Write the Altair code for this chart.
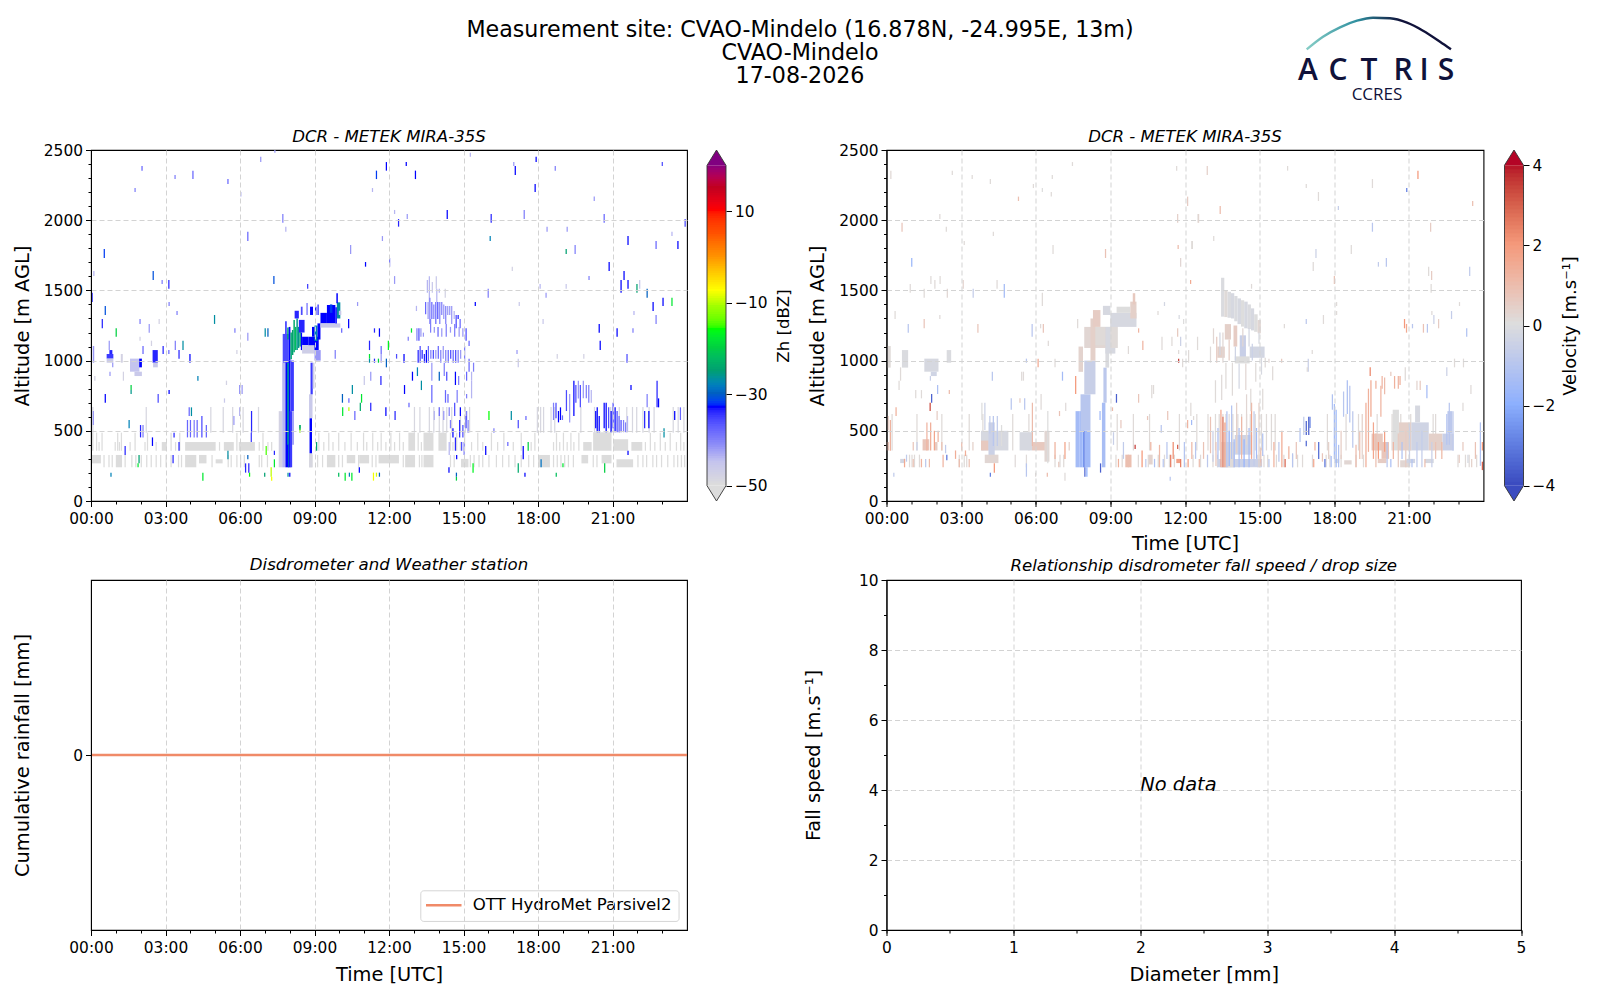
import altair as alt
import pandas as pd

FONT = "DejaVu Sans"
TICK_W = 0.05

# ---------- Zh panel [dBZ] : (hour, low m, high m, dBZ) ----------
zh_sparse = [
 (2.03,2353,2386,-38),(3.36,2293,2322,-40),(4.08,2293,2353,-38),(5.49,2258,2293,-38),(6.81,2414,2452,-42),(7.38,2481,2500,-42),
 (1.75,2201,2229,-40),(6.01,2168,2201,-44),(7.70,1982,2044,-40),(7.82,1918,1954,-44),(6.29,1852,1918,-38),(0.51,1731,1795,-32),
 (0.09,1602,1638,-44),(2.48,1574,1638,-31),(2.84,1546,1574,-40),(3.11,1512,1574,-34),(7.34,1546,1602,-31),(8.70,1512,1546,-35),
 (0.02,1417,1484,-34),(3.12,1389,1417,-40),(0.55,1325,1389,-31),(3.44,1325,1353,-40),(0.43,1230,1296,-34),(1.95,1261,1296,-40),
 (2.32,1199,1261,-42),(2.72,1261,1296,-48),(4.95,1261,1325,-27),(5.77,1199,1230,-40),(0.99,1170,1230,-20),(6.99,1170,1230,-27),
 (7.10,1170,1230,-30),(6.29,1142,1199,-42),(1.95,1142,1170,-48),(0.71,1075,1142,-42),(3.37,1075,1142,-40),(3.68,1075,1142,-27),
 (2.41,1104,1142,-48),(2.07,1047,1104,-38),(2.88,1047,1104,-34),(3.11,1047,1075,-38),(3.52,1014,1075,-34),(3.96,985,1047,-33),
 (5.85,1047,1075,-48),(0.74,890,921,-42),(4.28,857,890,-28),(0.13,857,890,-48),(1.28,857,921,-48),(1.59,790,826,-20),(1.59,762,790,-26),
 (0.55,700,762,-33),(2.68,700,762,-36),(3.12,762,790,-33),(5.96,762,826,-42),(6.06,762,826,-42),(5.43,826,857,-48),(5.35,700,731,-46),
 (10.5,762,826,-27),(10.1,700,762,-30),(10.87,700,762,-18),(10.36,700,731,-38),(10.36,641,667,-10),(11.24,641,700,-34),(10.82,641,700,-24),
 (11.85,605,667,-33),(12.22,577,641,-34),(10.11,605,667,-18),(10.6,577,641,-38),(4.02,605,667,-27),(3.93,605,667,-38),(6.44,487,641,-34),
 (0.07,541,641,-42),(5.73,541,605,-42),(5.96,605,667,-44),(1.51,518,577,-28),(1.97,453,541,-34),(2.07,453,541,-40),
 (3.86,453,577,-38),(3.98,453,577,-38),(4.13,453,577,-40),(4.25,453,577,-38),(4.44,453,605,-36),(4.62,453,541,-38),
 (3.32,453,487,-34),(3.52,358,420,-34),(2.45,392,453,-33),(1.35,328,392,-34),(1.91,268,328,-25),(1.87,240,268,-18),(0.78,173,202,-28),
 (4.48,145,202,-18),(3.28,268,328,-34),(5.49,297,358,-27),(6.29,297,328,-30),(6.2,202,268,-34),(6.33,202,268,-34),(6.36,173,202,-16),
 (7.03,328,392,-15),(7.36,328,358,-34),(7.36,240,297,-18),(6.43,420,487,-35),(6.97,173,202,-25),(7.23,173,240,-10),(7.25,145,173,-8),
 (7.91,173,202,-27),(7.98,173,202,-33),(9.06,358,420,-25),(8.39,518,541,-20),(8.39,487,518,-12),(9.95,173,202,-22),(10.21,145,202,-18),(10.38,173,202,-28),
 (10.48,145,202,-18),(10.78,202,240,-33),(11.35,145,202,-8),(11.47,173,202,-9),(11.59,173,202,-30),(11.19,1075,1142,-34),(11.39,1199,1230,-34),
 (11.59,1170,1230,-33),(11.95,1075,1142,-17),(11.19,1014,1047,-18),(11.19,985,1014,-27),(11.39,985,1014,-34),(11.66,1047,1104,-38),(11.66,985,1047,-42),
 (11.87,952,1014,-30),(12.28,1014,1047,-36),(11.55,985,1014,-20),(10.98,826,890,-46),(11.24,857,921,-42),(11.65,826,890,-34),(10.71,1389,1417,-42),
 (10.35,1230,1296,-33),(10.07,1199,1230,-38),(9.81,1014,1075,-40),(10.43,1759,1823,-42),(11.03,1669,1702,-33),(11.71,1852,1887,-42),(12.0,1669,1731,-40),
 (12.2,2044,2073,-44),(12.36,1954,2008,-34),(12.2,1546,1602,-42),(11.31,2201,2229,-44),(11.47,2293,2353,-32),(11.87,2353,2414,-33),
 (12.67,2386,2414,-33),(13.04,2293,2353,-33),(17.06,2322,2386,-33),(17.0,2386,2414,-42),(17.9,2414,2452,-33),(15.25,2452,2481,-44),(18.67,2353,2386,-40),
 (22.98,2386,2414,-36),(17.86,2201,2258,-33),(20.24,2137,2168,-42),(12.71,2008,2044,-42),(14.32,2008,2073,-33),(16.09,1982,2044,-34),(17.42,2008,2073,-40),
 (20.64,1982,2044,-38),(23.9,1954,2008,-36),(16.05,1852,1887,-28),(18.34,1918,1954,-42),(19.15,1918,1954,-42),(19.11,1759,1795,-25),(19.47,1759,1823,-40),
 (21.6,1823,1887,-33),(22.73,1795,1852,-38),(23.61,1795,1852,-33),(23.37,1887,1918,-44),(20.84,1638,1702,-33),(16.94,1638,1669,-48),(20.03,1574,1602,-40),
 (21.44,1574,1638,-33),(21.32,1484,1574,-33),(21.6,1512,1574,-33),(21.96,1484,1546,-25),(22.07,1512,1574,-46),(22.37,1448,1512,-30),(19.11,1512,1546,-46),
 (18.06,1512,1546,-44),(18.3,1448,1484,-42),(15.97,1448,1512,-40),(15.45,1389,1417,-33),(17.22,1389,1417,-46),(22.61,1353,1417,-33),(23.01,1389,1448,-33),
 (23.37,1389,1448,-18),(21.84,1325,1353,-44),(22.73,1261,1325,-40),(18.18,1261,1296,-46),(20.44,1199,1261,-33),(21.16,1170,1230,-33),(21.8,1199,1230,-40),
 (20.48,1075,1142,-33),(21.56,985,1047,-36),(17.13,1047,1075,-42),(17.18,952,1014,-46),(18.75,1014,1047,-48),(19.82,1014,1047,-48),
 (12.6,762,826,-33),(12.88,1199,1230,-18),(12.78,667,700,-38),(12.58,985,1047,-33),(12.92,857,921,-33),(13.12,890,952,-28),(13.28,790,857,-27),
 (16.0,577,641,-16),(16.9,577,641,-27),(17.49,577,605,-38),(17.18,518,577,-36),(16.2,487,518,-40),(16.76,392,420,-38),(15.87,328,392,-33),
 (17.58,358,420,-20),(17.38,297,392,-33),(15.36,202,268,-17),(14.39,202,240,-33),(14.7,297,328,-33),(14.69,145,173,-20),(14.69,173,202,-30),
 (17.18,202,268,-24),(17.45,173,202,-33),(18.1,240,297,-29),(18.98,240,268,-18),(18.71,173,202,-22),(20.66,202,268,-20),(21.6,328,358,-33),
 (22.77,667,857,-34),(22.83,667,731,-33),(22.37,667,762,-40),(22.27,518,641,-34),(22.44,518,641,-33),(23.48,577,641,-33),(23.71,577,667,-38),
 (23.05,453,518,-27),(21.72,790,826,-33),(8.39,508,541,-25),
]
# stratiform cloud at 13.4-15.5 h and dim echoes below it
zh_storm = [
 (13.52,1484,1574,-44),(13.6,1417,1600,-44),(13.72,1484,1560,-46),(13.88,1512,1600,-46),(13.9,1417,1512,-44),(14.0,1484,1512,-44),(14.24,1448,1512,-48),
 (13.45,1330,1417,-38),(13.55,1296,1417,-42),(13.62,1261,1448,-40),(13.7,1296,1417,-38),(13.78,1296,1400,-40),(13.86,1261,1417,-38),(13.94,1296,1417,-36),
 (14.02,1261,1417,-40),(14.1,1325,1417,-40),(14.18,1296,1400,-42),(14.26,1261,1389,-40),(14.34,1325,1389,-42),(14.42,1325,1389,-42),(14.5,1261,1389,-42),
 (14.6,1296,1353,-44),(14.68,1230,1325,-36),(14.76,1296,1325,-34),(14.84,1230,1296,-38),(13.08,1353,1390,-44),(13.1,1142,1230,-40),(13.18,1142,1230,-36),
 (13.26,1170,1230,-42),(13.36,1170,1199,-42),(12.75,1142,1170,-40),(13.65,1199,1296,-40),(13.8,1199,1240,-42),(13.95,1170,1240,-38),(14.1,1170,1230,-42),
 (14.28,1170,1261,-40),(14.45,1199,1240,-42),(14.62,1170,1261,-40),(14.8,1170,1240,-42),(14.95,1170,1230,-42),(15.08,1142,1230,-36),(15.2,1104,1142,-38),
 (13.15,985,1075,-34),(13.23,985,1104,-36),(13.31,1014,1075,-34),(13.4,985,1047,-34),(13.48,985,1075,-33),(13.56,985,1104,-38),(13.66,1014,1075,-40),
 (13.76,1014,1075,-36),(13.86,1014,1075,-42),(13.96,1014,1104,-38),(14.06,985,1075,-40),(14.16,1014,1104,-42),(14.26,985,1075,-40),(14.36,985,1075,-38),
 (14.46,1014,1075,-36),(14.56,985,1075,-38),(14.66,985,1075,-36),(14.76,985,1075,-40),(14.86,1014,1075,-42),(15.02,985,1104,-40),(15.2,921,1014,-38),(15.38,921,985,-40),
 (13.7,857,985,-42),(14.0,857,921,-30),(14.2,890,985,-40),(14.3,857,921,-36),(14.65,826,921,-33),(14.78,826,890,-40),(15.1,857,921,-38),(15.3,857,921,-44),
 (13.7,700,826,-38),(14.25,700,790,-38),(14.35,700,762,-38),(14.72,700,790,-40),(15.1,731,762,-40),(15.3,731,857,-44),
 (14.0,605,667,-38),(14.4,605,667,-40),(14.62,605,700,-36),(14.85,605,667,-33),(15.1,577,641,-40),(13.8,577,641,-44),(14.18,577,641,-42),
 (14.45,518,577,-40),(14.82,453,577,-34),(14.95,453,541,-36),(15.08,518,605,-36),(15.16,487,577,-40),(14.55,453,518,-33),(14.65,358,453,-34),(14.9,358,420,-36),
 (15.0,328,420,-40),(14.4,328,420,-44),
]
# boundary-layer plumes 18-22.5 h
zh_plumes = [
 (18.6,577,700,-40),(18.7,590,700,-36),(18.8,560,641,-33),(18.88,577,667,-33),(18.96,577,610,-38),(19.12,641,790,-36),(19.25,560,762,-42),(19.42,605,857,-33),
 (19.5,700,826,-36),(19.6,730,857,-42),(19.68,667,826,-36),(19.8,731,857,-42),(19.92,731,826,-40),(20.02,700,826,-40),(20.12,700,790,-44),
 (20.3,518,641,-33),(20.36,490,667,-33),(20.44,490,605,-33),(20.64,518,700,-33),(20.72,490,700,-33),(20.82,518,667,-36),(20.92,490,641,-33),(21.0,518,700,-36),
 (21.08,490,667,-33),(21.16,490,641,-36),(21.24,490,605,-38),(21.32,490,577,-36),(21.42,490,577,-40),(21.5,490,560,-40),(21.58,490,605,-44),
]
# cloud layer at 1000 m and first echoes (start h, end h, low, high, dBZ)
zh_blocks = [
 (0.07,0.13,985,1104,-42),(0.63,0.9,1014,1047,-35),(0.74,0.86,1047,1075,-34),(0.63,0.9,985,1014,-46),(0.85,0.9,952,985,-42),(1.2,1.28,985,1047,-48),
 (1.57,1.95,921,1014,-45),(1.94,2.05,952,1014,-33),(1.75,2.05,890,921,-46),(2.48,2.69,985,1075,-34),(2.5,2.69,952,985,-46),
 # halo and main fall streak
 (7.56,7.7,240,640,-48),(7.7,7.83,240,985,-44),(7.83,8.03,240,1000,-33),(7.9,7.97,400,985,-27),(7.93,7.97,240,400,-30),(8.03,8.17,640,1000,-35),(8.0,8.1,240,640,-35),(8.1,8.17,400,640,-42),
 (8.78,8.92,240,340,-49),(8.8,8.9,340,590,-33),(8.78,8.92,590,760,-46),(8.84,8.93,760,985,-35),(8.93,9.0,800,985,-47),
 # rising tongue, mottled
 (7.72,7.96,985,1190,-36),(7.82,7.88,1190,1280,-34),(7.9,7.96,1150,1235,-24),
 (7.96,8.03,1000,1240,-33),(8.03,8.09,1010,1200,-24),(8.09,8.15,1040,1218,-25),(8.15,8.21,1060,1290,-24),(8.21,8.27,1075,1240,-22),(8.27,8.33,1075,1300,-26),(8.33,8.39,1090,1240,-26),(8.39,8.45,1100,1215,-24),(8.45,8.5,1075,1200,-33),
 (8.5,8.75,1110,1170,-33),(8.75,9.17,1075,1170,-33),(8.5,9.0,1050,1110,-47),(9.0,9.25,1000,1075,-42),
 (8.9,9.0,1170,1240,-33),(9.0,9.12,1140,1250,-28),(9.12,9.24,1150,1265,-33),(8.68,8.72,1325,1410,-36),(8.82,8.94,1325,1384,-33),(9.02,9.08,1325,1384,-34),(9.12,9.17,1325,1400,-34),(8.45,8.52,1325,1384,-36),
 (8.2,8.37,1300,1355,-34),(8.37,8.6,1200,1290,-34),
 (9.24,9.5,1265,1340,-33),(9.5,9.84,1265,1396,-33),(9.24,10.04,1235,1265,-46),(9.62,9.72,1340,1400,-32),(9.84,9.9,1265,1380,-33),(9.9,10.04,1300,1415,-27),(9.88,9.94,1408,1480,-33),(9.98,10.08,1325,1355,-46),
]
# weak low-level echoes (all near -50 dBZ)
zh_grey_blocks = [
 (0.0,0.1,358,487),(2.85,3.05,358,420),(3.79,5.02,358,420),(5.35,5.75,358,420),(5.95,6.6,358,420),(3.79,4.24,240,328),(4.35,4.65,268,328),
 (0.0,0.4,268,328),(1.0,1.25,240,328),(5.02,5.3,268,297),(8.78,8.92,240,328),(9.5,9.84,240,328),(10.3,10.64,268,328),(10.8,11.2,268,328),
 (11.58,12.4,268,328),(12.78,13.05,358,487),(13.39,13.79,358,487),(13.99,14.32,358,487),(19.82,20.16,358,420),(20.22,20.96,358,490),
 (21.03,21.63,358,440),(21.76,22.2,358,420),(12.65,13.05,240,328),(13.39,13.79,240,328),(14.9,15.2,240,300),(18.0,18.48,240,328),(19.75,20.02,268,328),
 (20.56,20.96,268,328),(21.16,21.83,240,297),
]
zh_grey_upper_t = [0.2,0.42,1.05,1.2,1.75,2.25,3.2,3.55,5.85,6.9,9.15,9.55,9.95,10.45,10.95,11.32,11.66,12.05,12.4,13.15,14.45,14.7,15.02,15.55,16.1,16.6,17.3,17.85,18.72,19.0,19.3,19.62,22.5,22.9,23.3,23.72]
zh_grey_short_t = [0.3,0.95,1.12,1.55,2.15,2.6,3.0,3.38,5.15,6.75,7.1,7.25,9.35,9.72,10.2,10.7,11.08,11.52,11.85,12.2,12.55,13.28,14.55,14.85,15.3,15.75,16.35,16.98,17.7,18.6,18.85,19.15,19.42,22.3,22.68,23.1,23.55,23.85]
zh_grey_lower_t = [0.5,0.7,0.83,1.35,1.62,1.78,2.0,2.22,2.4,2.6,2.78,3.0,3.2,3.5,3.62,4.85,5.5,5.62,5.85,6.0,6.15,6.75,6.85,7.08,9.1,9.3,9.95,10.1,10.75,11.3,11.45,12.55,13.2,13.3,14.45,14.6,15.25,15.4,15.6,15.75,16.0,16.3,16.55,16.8,17.05,17.3,17.6,17.8,18.6,18.75,18.9,19.05,19.2,19.4,20.2,20.35,22.0,22.2,22.35,22.6,22.75,22.95,23.2,23.45,23.6,23.75,23.88]
zh_grey_tall_t = [0.05,2.2,4.8,5.3,5.68,6.1,6.72,13.0,13.22,13.6,13.78,14.0,14.15,14.3,14.5,14.85,15.05,15.22,17.95,18.08,18.2,18.5,18.65,19.7,20.25,20.9,21.0,21.25,21.55,21.78,21.95,22.2,22.45,22.65,23.42,23.62,23.85]

# ---------- Velocity panel [m/s] : (hour, low m, high m, velocity) ----------
v_sparse = [
 (0.15,2293,2353,0.15),(2.62,2322,2353,0.1),(3.42,2293,2322,0.1),(4.15,2258,2293,0.1),(7.45,2386,2414,0.1),(5.88,2229,2258,0.1),(6.24,2201,2229,0),(6.64,2293,2322,0.1),
 (6.6,2168,2201,0.1),(5.28,2137,2168,0.9),(11.64,2353,2386,0.1),(12.08,2101,2168,0.5),(0.6,1918,1982,0.7),(2.12,2008,2044,0.1),(2.38,1918,1954,0.1),(4.27,1887,1918,0.1),
 (11.68,1982,2044,0.4),(12.52,1982,2044,0.5),(3.1,1823,1852,0.1),(6.67,1759,1823,0.1),(8.78,1731,1795,0.8),(11.7,1795,1823,1),(12.27,1795,1852,0.1),(0.99,1669,1731,-1.7),
 (11.8,1669,1731,0.2),(1.76,1546,1602,0.1),(1.92,1512,1574,0.1),(2.13,1546,1602,0.1),(0.93,1484,1546,0.1),(1.49,1448,1512,0.1),(2.42,1448,1512,0.2),(3.06,1512,1574,0.3),
 (3.46,1448,1512,-0.7),(4.42,1512,1574,0.1),(4.71,1448,1546,-1.5),(6.24,1389,1484,0.1),(12.2,1546,1574,1.5),(0.32,1296,1353,0.1),(2.12,1296,1325,0.1),(1.49,1230,1296,0.7),
 (0.85,1199,1261,-1),(3.65,1199,1261,0.7),(5.83,1170,1261,-1),(6.28,1199,1261,0.7),(6.17,1230,1261,0.1),(6.48,1104,1142,0.1),(7.66,1230,1296,0.1),(11.15,1389,1417,-0.3),
 (10.89,1325,1353,0.1),(11.74,1296,1325,-0.2),(11.92,1261,1296,0),(11.68,1170,1230,0.6),(10.11,1199,1230,1.2),(10.28,1075,1142,1.2),(9.7,1047,1104,0.1),(11.05,1075,1170,0.1),
 (11.45,1104,1170,0.1),(11.8,1104,1170,-0.5),(12.48,1075,1170,0.1),(11.72,1047,1075,0.1),(11.72,985,1014,3.5),(12.12,985,1075,0.1),(11.88,952,1014,0.1),(5.6,985,1014,-1),
 (6.07,952,1014,1.5),(6.75,952,1014,0.1),(0.54,857,952,0.1),(0.48,790,857,0.1),(4.23,857,921,-1),(5.41,857,921,0.1),(5.48,857,921,0.1),(7.05,857,921,-1.5),(7.58,762,890,2),
 (1.74,857,890,-0.6),(2.03,762,826,-1.3),(2.5,762,790,1),(1.38,731,790,0.1),(1.15,731,790,0.1),(1.79,700,762,-3.6),(1.73,641,700,3.3),(2.01,577,641,0.5),(0.36,605,667,1.3),
 (0.04,506,605,0.6),(0.13,358,577,1.3),(3.81,577,700,0),(3.93,506,700,-0.5),(4.13,480,605,-0.8),(4.27,392,605,-1),(4.43,392,605,-0.8),(4.6,392,541,0),(4.99,650,731,-1),
 (5.34,700,731,0.5),(5.53,650,731,-1),(5.84,392,700,1),(6.19,650,762,0.1),(6.93,605,641,0.8),(7.18,641,700,0.1),(6.46,268,641,0),(8.56,577,641,-1.6),(9.22,700,762,-3.6),
 (9.06,641,667,1),(10.11,700,762,0.7),(10.64,731,826,0.1),(10.71,762,826,0.1),(9.4,518,577,0.6),(10.47,577,605,0.7),(11.28,577,641,0.7),(11.02,487,541,-1),(12.21,605,700,0.1),
 (12.08,518,577,1.2),(12.24,541,577,-1.5),(12.32,577,605,0.1),(4.15,173,202,-3),(4.31,202,268,2),(5.6,173,268,-1),(5.97,173,202,0.1),(6.44,173,202,1),(7.15,145,202,0.1),
 (7.95,173,240,-3.5),(8.03,173,240,-2),(8.58,202,268,-3.6),(0.27,173,202,-0.8),(11.38,145,173,-1),
 (12.87,2322,2386,0.4),(16.1,2353,2386,0.1),(16.85,2229,2258,0.1),(17.34,2137,2201,0.1),(18.14,2073,2101,-0.7),(19.51,2229,2293,0.1),(21.34,2293,2353,2),(20.89,2201,2229,-3),
 (23.54,2101,2137,0.9),(13.39,2044,2101,1),(12.5,1982,2044,0.1),(13.13,1852,1887,0.1),(12.25,1795,1852,0.1),(19.51,1918,1982,-1),(21.85,1918,1982,0.5),(18.66,1759,1823,0.1),
 (17.24,1731,1795,-0.5),(17.13,1638,1702,0.1),(19.75,1669,1702,-0.8),(20.07,1669,1731,-1),(21.77,1602,1669,0.1),(21.89,1574,1638,0.5),(23.42,1602,1669,-0.8),(17.98,1546,1602,0.8),
 (21.87,1484,1546,0.1),(14.65,1512,1546,0.1),(17.54,1261,1325,0.1),(16.85,1261,1296,-0.9),(15.97,1230,1261,0.1),(18.07,1389,1417,0.1),(18.07,1325,1353,0.1),(23.01,1389,1417,0.1),
 (22.69,1296,1353,-0.7),(21.9,1325,1353,0.1),(21.98,1261,1325,-0.5),(22.17,1230,1296,0.5),(20.8,1230,1296,2),(20.88,1199,1261,1.5),(21.12,1230,1261,-1),(21.56,1199,1261,0.8),
 (21.72,1199,1261,-1),(23.3,1170,1230,-1.2),(17.09,1047,1075,0.1),(16.93,921,1014,-0.6),(16.89,921,952,0.1),(15.86,985,1014,0.6),(19.42,890,952,2.3),(22.81,952,1014,0.1),
 (23.17,952,1014,0.1),(22.5,890,952,-0.5),(20.83,857,952,0.1),(20.62,826,890,1.3),(21.7,731,826,-1.5),(21.43,790,857,0.6),(21.3,790,857,0.3),(23.47,762,826,0.1),(23.15,641,700,0.1),
 (20.25,890,921,0.6),(20.4,800,890,1.3),(20.55,800,890,1.2),(19.65,800,857,1.3),(19.9,800,890,1.2),(20.0,760,880,1),
]
# sparse columns below the 14 h cloud
v_storm = [
 (13.0,985,1100,0.1),(13.12,1120,1230,0.2),(13.25,985,1170,0.5),(13.38,1040,1200,-0.3),(13.5,985,1200,0.2),(13.62,800,985,0.1),(13.75,1000,1150,0.5),(13.88,750,985,0.1),
 (14.0,1000,1100,-0.4),(14.15,800,980,-0.3),(14.3,1100,1230,0.2),(14.42,790,980,0.2),(14.55,1100,1230,-0.3),(14.68,1000,1120,-0.5),(14.82,850,985,0.1),(14.95,1120,1200,-0.2),
 (15.05,900,1040,-0.2),(15.2,950,1020,0.1),(15.35,985,1014,0.2),(15.5,860,960,0.1),(13.2,700,860,0.1),(13.45,720,900,0.1),(14.62,640,800,0.1),(15.1,650,800,0.1),
]
# velocity texture in the low layer : (hour, low, high, velocity)
v_low = [
 (13.0,340,600,0.8),(13.1,280,500,-0.6),(13.22,250,420,0.7),(13.3,300,520,-1.3),(13.42,240,650,1.6),(13.5,240,600,2.5),(13.58,240,560,1.8),(13.66,240,640,-1.2),(13.75,250,500,-1.8),
 (13.85,300,680,-1.1),(13.95,240,440,-1.6),(14.05,340,700,0.4),(14.15,240,520,-1.3),(14.25,300,600,1.1),(14.35,240,440,-1.8),(14.45,400,760,0.2),(14.55,240,520,-1.4),(14.65,300,700,1.6),
 (14.75,250,640,-0.8),(14.85,300,520,-1.5),(14.95,240,700,0.4),(15.02,250,380,1),(15.1,320,480,-1.2),(15.35,240,300,-1),(15.55,240,420,1.3),(15.75,280,420,-0.9),(15.87,240,500,1.5),
 (16.0,240,300,2.8),(16.15,300,390,1.3),(16.3,240,340,-1),(16.45,300,420,0.7),(16.6,420,520,-1.2),(16.75,470,600,-0.8),(16.85,390,430,-3.4),(16.85,470,570,-3.6),(16.95,470,600,-3.6),(17.0,520,600,-3),
 (17.15,240,300,1.6),(17.35,300,420,-3.4),(17.5,280,340,0.7),(17.6,240,300,-3.2),(17.2,360,420,1.2),(17.75,300,420,0.4),(17.85,240,320,-1.4),(17.9,650,760,-1.2),(17.98,300,690,-1.5),
 (18.05,240,650,-1.7),(18.15,240,400,-1.2),(18.25,300,500,0.5),(18.35,600,780,-1),(18.5,620,860,-1.3),(18.6,560,820,-1),(18.72,380,640,-0.9),(18.85,240,400,1),(19.0,300,500,0.9),
 (19.1,300,620,0.4),(19.25,240,700,1.4),(19.35,350,800,1.3),(19.45,600,860,1.5),(19.55,300,560,1.6),(19.65,240,480,0.9),(19.75,300,420,2),(19.85,600,820,1.2),(20.0,350,500,1.8),(20.1,240,420,-1),
 (20.25,240,300,-1.3),(20.35,300,420,1.2),(20.55,240,480,0.6),(20.7,300,420,-1.2),(20.85,240,500,0.5),(21.0,250,550,-0.6),(21.1,240,300,-1.1),(21.3,240,420,-0.8),(21.5,240,500,-0.7),(21.62,240,300,0.9),
 (21.9,240,420,-0.6),(22.05,300,420,0.8),(22.3,300,420,1.1),(22.5,400,620,-1.1),(22.6,400,700,-1),(22.75,358,640,-0.8),(23.0,270,330,0.5),(23.15,358,420,0.6),(23.35,270,330,-0.2),
 (23.5,240,300,0.4),(23.65,300,420,0.8),(23.85,250,560,-1.2),(23.93,220,280,3),(23.93,360,420,2),
 (3.0,360,420,1),(3.15,320,360,1.4),(3.3,240,300,0.9),(2.9,240,300,1),(3.45,360,420,0.4),(0.7,240,300,1.5),(1.05,240,300,0.8),(1.38,240,300,1.2),(1.55,240,300,-0.9),(1.7,240,300,1),(2.25,240,330,1.2),(2.4,290,330,-3.2),(2.75,300,360,1.4),
 (1.6,360,560,1.2),(1.75,360,560,1.4),(1.9,360,500,1.6),(2.05,420,500,1.2),(2.2,360,420,0.9),(2.35,340,400,-0.8),(1.05,360,420,0.7),(1.2,360,420,-0.6),(0.78,280,330,-0.8),
 (6.75,300,420,1.3),(6.9,240,280,0.6),(7.15,300,420,1.7),(7.32,360,420,0.4),(9.1,400,490,-0.6),(9.3,240,300,1.3),(9.5,300,420,-0.8),(9.97,370,400,3.5),(10.25,240,360,2),(10.4,240,300,-0.8),(10.6,360,420,1.2),(10.75,240,300,-1.2),
 (10.95,240,400,1.1),(11.1,240,300,-1),(11.25,300,420,-1),(11.4,240,330,2.5),(11.5,300,420,2.2),(11.68,370,400,3),(11.8,240,300,2.5),(11.95,240,420,-1.1),(12.1,240,300,1.8),(12.25,300,420,1.1),(12.4,300,420,-1),(12.55,240,300,1),(12.72,300,420,0.8),(12.88,240,330,-0.9),
]
# (start h, end h, low, high, velocity)
v_blocks = [
 (0.04,0.17,950,1104,0.1),(0.62,0.87,950,1075,-0.1),(1.52,2.09,921,1014,-0.2),(1.78,2.02,890,921,-0.4),(2.42,2.6,985,1075,-0.1),
 (7.6,7.75,240,640,-1.5),(7.75,7.88,240,640,-1.6),(7.88,7.95,240,650,-2),(7.92,7.97,240,500,-3.1),(7.97,8.2,240,500,-1.6),(7.8,8.2,500,760,-1.0),(7.95,8.4,760,1000,-0.6),(7.72,7.9,920,1100,0.3),
 (8.66,8.8,240,700,-1.4),(8.72,8.85,700,950,-0.9),(8.8,8.95,950,1100,-0.1),
 (7.95,9.2,1090,1240,0.2),(8.2,8.4,1000,1300,0.4),(8.4,8.8,1110,1240,0.1),(8.8,9.2,1050,1240,-0.2),(8.3,8.6,1240,1360,0.5),(8.7,9.0,1325,1390,-0.2),(9.0,9.3,1090,1300,0.1),
 (9.0,10.05,1240,1340,-0.2),(9.25,9.8,1340,1384,0),(9.8,10.05,1300,1420,0.4),(9.9,10.0,1400,1480,0.6),
 (3.8,4.9,360,500,-0.2),(3.8,4.1,360,430,0.6),(4.1,4.35,300,560,-0.5),(3.95,4.5,270,330,0.2),(5.35,5.85,360,490,-0.2),(5.85,6.5,360,420,0.6),(6.35,6.55,280,500,0.2),
 (1.45,1.72,360,440,0.7),(0,0.1,360,420,0.7),(0.55,0.75,270,300,-0.3),(1.95,2.05,360,420,0.5),
 (9.6,9.85,240,330,0.9),(10.55,10.7,260,330,0.3),(11.65,11.8,270,300,1.8),
 (13.45,13.58,1313,1590,-0.1),(13.58,13.71,1310,1503,0.1),(13.71,13.85,1305,1490,-0.1),(13.85,13.98,1300,1480,-0.2),(13.98,14.11,1280,1460,-0.1),(14.11,14.25,1260,1443,-0.2),
 (14.25,14.38,1242,1430,0),(14.38,14.52,1230,1420,-0.2),(14.52,14.65,1225,1400,-0.1),(14.65,14.78,1215,1372,-0.2),(14.78,14.92,1205,1330,0),(14.92,15.05,1194,1289,0.2),
 (13.6,13.85,1150,1260,0.4),(13.95,14.1,1100,1250,0.5),(14.2,14.45,1000,1180,-0.6),(14.6,15.2,1020,1100,-0.3),(13.3,13.6,1020,1100,0.4),(14.0,14.6,980,1030,0),
 (13.3,15.1,240,300,-0.5),(13.6,13.95,300,420,-0.3),(14.0,14.7,330,470,-0.4),(13.45,14.0,240,420,0.1),
 (18.4,18.7,260,290,0.2),(19.5,19.95,360,480,0.6),(19.9,20.2,300,420,0.7),(20.35,20.6,360,650,0),(20.6,21.1,360,560,0.4),(20.65,21.05,240,290,0.2),(21.1,21.8,360,560,-0.4),
 (21.25,21.45,560,680,-0.2),(21.8,22.35,360,480,0.4),(22.35,22.8,360,480,-0.6),(22.55,22.75,480,640,-0.9),(18.0,18.2,270,300,-0.3),(19.75,20.1,270,300,0.5),(20.9,21.25,270,300,-0.4),(21.65,22.0,270,300,-0.2),
]
v_grey_t = [0.9,1.0,1.1,1.3,2.9,3.1,3.2,5.15,5.6,6.75,6.95,7.1,9.2,9.45,9.7,10.1,10.5,10.9,11.15,11.35,11.55,12.3,12.6,13.1,13.28,14.9,15.15,15.3,15.65,15.95,16.3,16.5,16.7,17.1,17.65,17.8,18.25,18.85,19.15,22.95,23.25,23.4,23.7]
v_grey_mid_t = [0.2,1.2,2.2,3.3,3.85,5.05,5.7,9.25,9.9,10.55,11.75,12.45,12.9,13.2,13.35,13.5,13.62,13.75,13.9,14.1,14.25,14.45,14.6,14.8,15.05,15.25,15.45,15.6,17.7,18.45,18.95,19.7,20.3,20.65,21.05,21.95,22.05]

# ---------- colours ----------
zh_domain = [-50,-45,-41,-37,-33,-30,-25,-20,-16,-11,-7.5,-3,0,5,10,15,20]
zh_range = ["#dcdcdc","#c4c4ee","#8a8af8","#5a5aff","#0000ff","#0060c0","#00a070","#00d040","#00ff00","#a0ff00","#ffff00","#ffc000","#ff9000","#ff5000","#ff0000","#c00020","#800080"]
v_domain = [-4,-2,0,2,4]
v_range = ["#3b4cc0","#8db0fe","#dddddd","#f4987a","#b40426"]
hydro_colour = "#f08a68"
zh_bar_steps = [v/2 for v in range(-100, 40)]
v_bar_steps = [v/10 for v in range(-40, 40)]

# ---------- text ----------
title_lines = ["Measurement site: CVAO-Mindelo (16.878N, -24.995E, 13m)", "CVAO-Mindelo", "17-08-2026"]
title_y = [17, 40, 62.5]
title_x = [801, 801, 801]
logo_letters = ["A", "C", "T", "R", "I", "S"]
logo_letter_x = [1309, 1339, 1370, 1404, 1425, 1447]
logo_arc_x = [1307.7,1324,1341,1358,1374,1391,1408,1424,1441,1452]
logo_arc_y = [36.3,23.7,14.3,7.7,4.7,5.3,9.7,17.7,28.7,36.3]
mast_x = [1424, 1424]
mast_y = [0, 43]
major_hours = [0,3,6,9,12,15,18,21]
minor_hours = list(range(0,24))
alt_major = [0,500,1000,1500,2000,2500]
alt_minor = list(range(0,2501,100))

legend_label = ["OTT HydroMet Parsivel2"]
legend_box_t = [13.28, 23.68]
legend_box_v = [-0.776, -0.951]
legend_line_t = [13.49, 14.92]
legend_line_v = [-0.859, -0.859]
legend_text_t = [15.37]

PAGE_L = 92
HEAD_W, HEAD_H = 1470, 111.5

LABEL = 15.4
TITLE = 19.4
SUB = 16.6
GRID = "#d3d3d3"

def major_axis(values, orient, title=None, expr=None, extent=None, xpad=10):
    kw = dict(values=values, orient=orient, grid=False, tickSize=5.5, tickColor="black", format="d", labelFlush=False, labelOverlap=False,
              labelFontSize=LABEL, labelFont=FONT, labelColor="black", titleFont=FONT, titleFontSize=TITLE, titleFontWeight="normal", titleColor="black",
              domainColor="black", labelPadding=5 if orient == "bottom" else 3, zindex=2)
    kw["title"] = title if title is not None else ""
    if expr:
        kw["labelExpr"] = expr
    if extent:
        kw.update(minExtent=extent, maxExtent=extent, titlePadding=6)
    if orient == "bottom":
        kw["titlePadding"] = xpad
    return alt.Axis(**kw)

def minor_axis(values, orient, extent=None):
    kw = dict(values=values, orient=orient, grid=False, labels=False, tickSize=3, tickColor="black", domain=False, title="")
    if extent:
        kw.update(minExtent=extent, maxExtent=extent)
    return alt.Axis(**kw)

def grid_axis(values, orient, extent=None):
    kw = dict(values=values, orient=orient, grid=True, gridColor=GRID, gridDash=[5,3], gridWidth=1, labels=False, ticks=False, domain=False, title="", zindex=1)
    if extent:
        kw.update(minExtent=extent, maxExtent=extent)
    return alt.Axis(**kw)

TIME_EXPR = "(datum.value<10?'0':'')+datum.value+':00'"

def guides(xscale, yscale, xmaj, xmin, xgrid, xtitle, ymaj, ymin, ygrid, ytitle, xexpr=None, yext=53, xpad=10):
    g = alt.Chart(pd.DataFrame({"x": xmaj[:1], "y": ymaj[:1]}))
    a = g.mark_point(opacity=0).encode(
        x=alt.X("x:Q", scale=xscale, axis=major_axis(xmaj, "bottom", xtitle, xexpr, xpad=xpad)),
        y=alt.Y("y:Q", scale=yscale, axis=major_axis(ymaj, "left", ytitle, None, yext)))
    b = g.mark_point(opacity=0).encode(
        x=alt.X("x:Q", scale=xscale, axis=minor_axis(xmin, "bottom")),
        y=alt.Y("y:Q", scale=yscale, axis=minor_axis(ymin, "left", yext)))
    c = g.mark_point(opacity=0).encode(
        x=alt.X("x:Q", scale=xscale, axis=grid_axis(xgrid, "bottom")),
        y=alt.Y("y:Q", scale=yscale, axis=grid_axis(ygrid, "left", yext)))
    return [a, b, c]

def panel_title(text, offset):
    return alt.TitleParams(text, fontSize=SUB, fontStyle="italic", font=FONT, fontWeight="normal", offset=offset)

TX = alt.Scale(domain=[0,24], nice=False, zero=False)
TY = alt.Scale(domain=[0,2500], nice=False, zero=False)
hour_grid = major_hours[1:]
alt_grid = alt_major[1:-1]

def frame(df, color_scale, w, h, title, xtitle):
    rect = alt.Chart(df).mark_rect(strokeWidth=0).encode(
        x=alt.X("t:Q", scale=TX, axis=None), x2="t2:Q",
        y=alt.Y("lo:Q", scale=TY, axis=None), y2="hi:Q",
        color=alt.Color("val:Q", scale=color_scale, legend=None))
    layers = [rect] + guides(TX, TY, major_hours, minor_hours, hour_grid, xtitle, alt_major, alt_minor, alt_grid, "Altitude [m AGL]", TIME_EXPR, xpad=8)
    return alt.layer(*layers).resolve_axis(x="independent", y="independent").properties(
        width=w, height=h, title=panel_title(title, -2.5))

def cell_table(rows, blocks, lists):
    recs = [(t, t+TICK_W, lo, hi, v) for t, lo, hi, v in rows]
    recs += [(a, b, lo, hi, v) for a, b, lo, hi, v in blocks]
    for times, lo, hi, v in lists:
        recs += [(t, t+TICK_W, lo, hi, v) for t in times]
    return pd.DataFrame(recs, columns=["t","t2","lo","hi","val"])

zh_df = cell_table(
    [],
    [(a,b,lo,hi,-50) for a,b,lo,hi in zh_grey_blocks],
    [(zh_grey_upper_t,358,487,-50),(zh_grey_short_t,358,420,-50),(zh_grey_lower_t,240,328,-50),(zh_grey_tall_t,487,670,-49)])
zh_df = pd.concat([zh_df, cell_table(zh_sparse+zh_storm+zh_plumes, zh_blocks, [])], ignore_index=True)

v_df = cell_table([], [], [(v_grey_t,240,330,0.1),(v_grey_mid_t,360,620,0.1)])
v_df = pd.concat([v_df, cell_table([], v_blocks, []), cell_table(v_low+v_sparse+v_storm, [], [])], ignore_index=True)

def colourbar(steps, step, domain, rng, lo, hi, tip_lo, tip_hi, ticks, title, title_size, title_pad, h=351):
    scale = alt.Scale(domain=[tip_lo, tip_hi], nice=False, zero=False)
    xs = alt.Scale(domain=[0,1], nice=False)
    cs = alt.Scale(domain=domain, range=rng)
    df = pd.DataFrame({"v": steps})
    df["v2"] = (df["v"] + step*1.4).clip(upper=hi)
    df["a"] = 0
    df["b"] = 1
    grad = alt.Chart(df).mark_rect(strokeWidth=0).encode(
        x=alt.X("a:Q", scale=xs, axis=None), x2="b:Q",
        y=alt.Y("v:Q", scale=scale, axis=None), y2="v2:Q",
        color=alt.Color("v:Q", scale=cs, legend=None))
    top = pd.DataFrame({"x":[0,0.5,1], "y":[hi,tip_hi,hi], "y2":[hi,hi,hi]})
    bot = pd.DataFrame({"x":[0,0.5,1], "y":[lo,tip_lo,lo], "y2":[lo,lo,lo]})
    t1 = alt.Chart(top).mark_area(color=rng[-1]).encode(x=alt.X("x:Q", scale=xs, axis=None), y=alt.Y("y:Q", scale=scale, axis=None), y2="y2:Q")
    t2 = alt.Chart(bot).mark_area(color=rng[0]).encode(x=alt.X("x:Q", scale=xs, axis=None), y=alt.Y("y:Q", scale=scale, axis=None), y2="y2:Q")
    outline = pd.DataFrame({"x":[0,0,0.5,1,1,0.5,0], "y":[lo,hi,tip_hi,hi,lo,tip_lo,lo], "o":list(range(7))})
    o = alt.Chart(outline).mark_line(color="#333333", strokeWidth=0.9).encode(
        x=alt.X("x:Q", scale=xs, axis=None),
        y=alt.Y("y:Q", scale=scale, axis=alt.Axis(values=ticks, orient="right", grid=False, tickSize=5.5, tickColor="black", labelFontSize=LABEL, labelFont=FONT,
                labelColor="black", title=title, titleFont=FONT, titleFontSize=title_size, titleFontWeight="normal", titleColor="black", domain=False, labelPadding=3, titlePadding=title_pad,
                titleAngle=270, titleBaseline="top", labelFlush=False, labelOverlap=False, labelExpr="replace(format(datum.value,'d'),'-','\u2212')")),
        order="o:Q")
    return alt.layer(t1, t2, grad, o).resolve_axis(y="independent").properties(width=19, height=h, view=alt.ViewBackground(stroke="transparent"))

# -- panels --
tl = frame(zh_df, alt.Scale(domain=zh_domain, range=zh_range), 596, 351, "DCR - METEK MIRA-35S", None)
tr = frame(v_df, alt.Scale(domain=v_domain, range=v_range), 597, 351, "DCR - METEK MIRA-35S", "Time [UTC]")
cb1 = colourbar(zh_bar_steps, 0.5, zh_domain, zh_range, -50, 20, -53.35, 23.37, [-50,-30,-10,10], "Zh [dBZ]", 16.6, 8.5)
cb2 = colourbar(v_bar_steps, 0.1, v_domain, v_range, -4, 4, -4.38, 4.38, [-4,-2,0,2,4], "Velocity [m.s\u207b\u00b9]", 18, 7)

# bottom-left
rain_t = [0, 24]
rain_v = [0, 0]
RY = alt.Scale(domain=[-1,1], nice=False, zero=False)
def no_axis_xy(fx, fy):
    return dict(x=alt.X(fx, scale=TX, axis=None), y=alt.Y(fy, scale=RY, axis=None))
rain = alt.Chart(pd.DataFrame({"t": rain_t, "v": rain_v})).mark_line(strokeWidth=2.5, clip=True, color=hydro_colour).encode(**no_axis_xy("t:Q", "v:Q"))
leg_box = alt.Chart(pd.DataFrame({"a":[legend_box_t[0]],"b":[legend_box_t[1]],"c":[legend_box_v[0]],"d":[legend_box_v[1]]})).mark_rect(
    fill="white", stroke="#d5d5d5", strokeWidth=1, cornerRadius=3).encode(**no_axis_xy("a:Q", "c:Q"), x2="b:Q", y2="d:Q")
leg_line = alt.Chart(pd.DataFrame({"t": legend_line_t, "v": legend_line_v})).mark_line(strokeWidth=2.5, color=hydro_colour).encode(**no_axis_xy("t:Q", "v:Q"))
leg_text = alt.Chart(pd.DataFrame({"t": legend_text_t, "v": legend_line_v[:1], "s": legend_label})).mark_text(
    align="left", baseline="middle", fontSize=16.6, font=FONT, color="black").encode(**no_axis_xy("t:Q", "v:Q"), text="s:N")
bl = alt.layer(*guides(TX, RY, major_hours, minor_hours, hour_grid, "Time [UTC]", [0], [0], [], "Cumulative rainfall [mm]", TIME_EXPR), rain, leg_box, leg_line, leg_text).resolve_axis(
    x="independent", y="independent").properties(width=596, height=350, title=panel_title("Disdrometer and Weather station", 6))

# bottom-right
DX = alt.Scale(domain=[0,5], nice=False, zero=False)
SY = alt.Scale(domain=[0,10], nice=False, zero=False)
nodata = alt.Chart(pd.DataFrame({"x":[2],"y":[4],"s":["No data"]})).mark_text(align="left", baseline="bottom", dy=5, fontStyle="italic", fontSize=19.4, font=FONT, color="black").encode(
    x=alt.X("x:Q", scale=DX, axis=None), y=alt.Y("y:Q", scale=SY, axis=None), text="s:N")
br = alt.layer(*guides(DX, SY, [0,1,2,3,4,5], [0,0.5,1,1.5,2,2.5,3,3.5,4,4.5,5], [1,2,3,4], "Diameter [mm]", [0,2,4,6,8,10], [0,1,2,3,4,5,6,7,8,9,10], [2,4,6,8], "Fall speed [m.s\u207b\u00b9]", yext=57), nodata).resolve_axis(
    x="independent", y="independent").properties(width=634.5, height=350, title=panel_title("Relationship disdrometer fall speed / drop size", -1.5))

# header with title and logo
HX = alt.Scale(domain=[PAGE_L, PAGE_L+HEAD_W], nice=False, zero=False)
HY = alt.Scale(domain=[HEAD_H, 0], nice=False, zero=False)
NOX = dict(scale=HX, axis=None)
NOY = dict(scale=HY, axis=None)
h_title = alt.Chart(pd.DataFrame({"x":title_x,"y":title_y,"s":title_lines})).mark_text(fontSize=22.2, font=FONT, color="black").encode(
    x=alt.X("x:Q", **NOX), y=alt.Y("y:Q", **NOY), text="s:N")
h_letters = alt.Chart(pd.DataFrame({"x":logo_letter_x,"y":[67]*6,"s":logo_letters})).mark_text(fontSize=30, font="Open Sans", fontWeight=600, color="#10123a", baseline="alphabetic").encode(
    x=alt.X("x:Q", **NOX), y=alt.Y("y:Q", **NOY), text="s:N")
h_ccres = alt.Chart(pd.DataFrame({"x":[1378],"y":[87],"s":["CCRES"]})).mark_text(fontSize=17, font="Open Sans", color="#10123a", baseline="alphabetic").encode(
    x=alt.X("x:Q", **NOX), y=alt.Y("y:Q", **NOY), text="s:N")
arc_grad = alt.Gradient(gradient="linear", x1=0, x2=1, y1=0, y2=0, stops=[
    alt.GradientStop(color="#86cdc6", offset=0), alt.GradientStop(color="#2f8f9f", offset=0.35), alt.GradientStop(color="#10123a", offset=0.65), alt.GradientStop(color="#10123a", offset=1)])
mast_grad = alt.Gradient(gradient="linear", x1=0, x2=0, y1=0, y2=1, stops=[
    alt.GradientStop(color="#ffffff", offset=0), alt.GradientStop(color="#10123a", offset=0.4), alt.GradientStop(color="#10123a", offset=1)])
h_arc = alt.Chart(pd.DataFrame({"x":logo_arc_x,"y":logo_arc_y,"o":list(range(len(logo_arc_x)))})).mark_line(stroke=arc_grad, strokeWidth=2.4, interpolate="monotone").encode(
    x=alt.X("x:Q", **NOX), y=alt.Y("y:Q", **NOY), order="o:Q")
h_mast = alt.Chart(pd.DataFrame({"x":mast_x,"y":mast_y,"o":[0,1]})).mark_line(stroke=mast_grad, strokeWidth=2).encode(
    x=alt.X("x:Q", **NOX), y=alt.Y("y:Q", **NOY), order="o:Q")
header = alt.layer(h_title, h_arc, h_mast, h_letters, h_ccres).properties(width=HEAD_W, height=HEAD_H, view=alt.ViewBackground(stroke="transparent"))

row1 = alt.hconcat(alt.hconcat(tl, cb1, spacing=16).resolve_scale(color="independent"), alt.hconcat(tr, cb2, spacing=17).resolve_scale(color="independent"), spacing=13.5).resolve_scale(color="independent")
row2 = alt.hconcat(bl, br, spacing=114.5).resolve_scale(color="independent")
chart = alt.vconcat(header, row1, row2, spacing=2).resolve_scale(color="independent").properties(padding={"left":3,"top":0,"right":0,"bottom":0}).configure_view(stroke="black", strokeWidth=1.1)
chart.save("out.html", embed_options={"renderer": "svg", "actions": False})
